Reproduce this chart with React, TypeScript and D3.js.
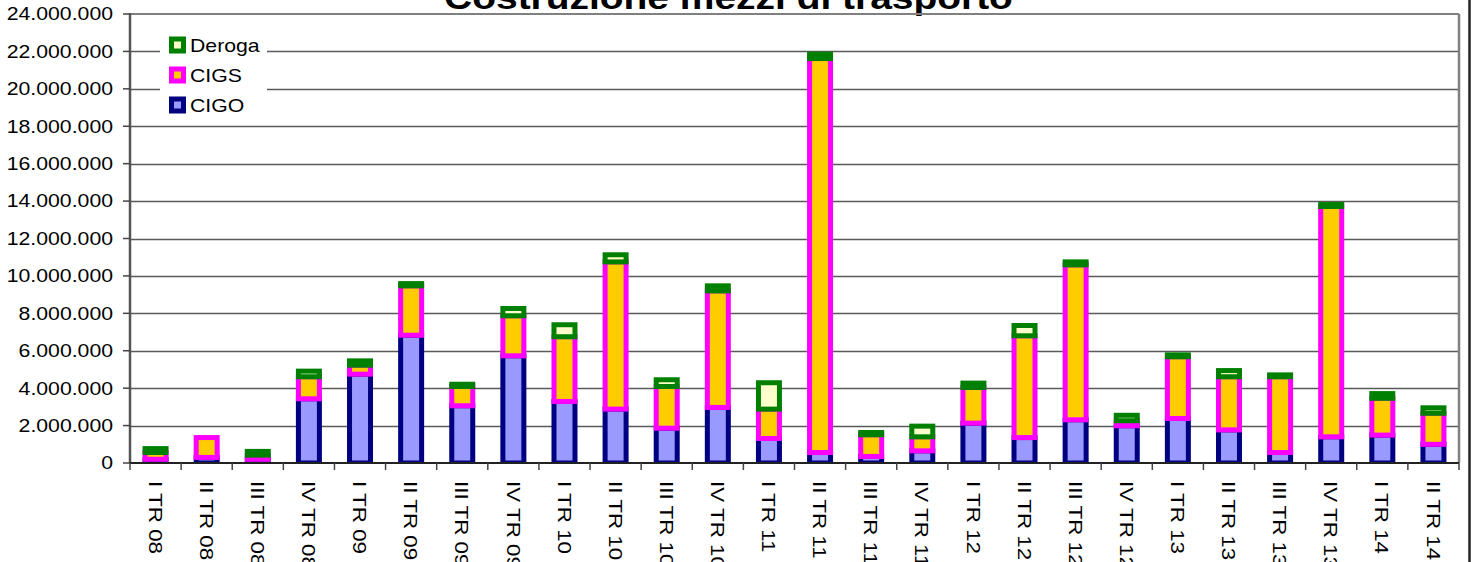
import React from "react";
import * as d3 from "d3";

const categories = ["I TR 08","II TR 08","III TR 08","IV TR 08","I TR 09","II TR 09","III TR 09","IV TR 09","I TR 10","II TR 10","III TR 10","IV TR 10","I TR 11","II TR 11","III TR 11","IV TR 11","I TR 12","II TR 12","III TR 12","IV TR 12","I TR 13","II TR 13","III TR 13","IV TR 13","I TR 14","II TR 14"];
const cigo = [200000,300000,200000,3430000,4750000,6830000,3060000,5730000,3290000,2880000,1860000,2970000,1310000,560000,350000,650000,2130000,1360000,2310000,1990000,2380000,1770000,560000,1400000,1490000,1000000];
const cigs = [360000,1060000,220000,1180000,480000,2640000,1030000,2140000,3460000,7870000,2230000,6230000,1570000,21060000,1160000,750000,1910000,5440000,8280000,270000,3300000,2840000,4050000,12310000,1970000,1660000];
const deroga = [210000,0,200000,300000,230000,120000,120000,390000,640000,380000,360000,270000,1410000,230000,120000,570000,230000,550000,160000,290000,100000,330000,100000,110000,250000,290000];
const yTicks = [0,2000000,4000000,6000000,8000000,10000000,12000000,14000000,16000000,18000000,20000000,22000000,24000000];
const seriesKeys = ["CIGO","CIGS","Deroga"];
const legendOrder = ["Deroga","CIGS","CIGO"];
const title = "Costruzione mezzi di trasporto";

const styles: Record<string, { fill: string; stroke: string }> = {
  CIGO: { fill: "#9999FF", stroke: "#000080" },
  CIGS: { fill: "#FFCC00", stroke: "#FF00FF" },
  Deroga: { fill: "#FFFFCC", stroke: "#008000" },
};

const W = 1474, H = 562;
const L = 130, R = 1459, T = 14, B = 463;
const FONT = "'Liberation Sans', Arial, sans-serif";
const SX = 1.18;

const fmt = d3.formatLocale({ decimal: ",", thousands: ".", grouping: [3], currency: ["€", ""] }).format(",");

export default function App() {
  const table = categories.map((c, i) => ({ cat: c, CIGO: cigo[i], CIGS: cigs[i], Deroga: deroga[i] }));
  const stacked = d3.stack<any>().keys(seriesKeys)(table);
  const x = d3.scaleBand<string>().domain(categories).range([L, R]).padding(0);
  const y = d3.scaleLinear().domain([0, 24000000]).range([B, T]);
  const barW = 21;
  const step = x.step();

  return (
    <svg width={W} height={H} style={{ position: "absolute", left: 0, top: 0, background: "#fff" }} fontFamily={FONT}>
      <defs>
        <clipPath id="plotclip">
          <rect x={L} y={0} width={R - L} height={B} />
        </clipPath>
      </defs>
      <rect x={0} y={0} width={W} height={H} fill="#fff" />
      {/* title */}
      <text x={0} y={0} transform={`translate(${(L + R) / 2 - 66},9) scale(${SX},1)`} textAnchor="middle" fontSize={33} fontWeight="bold" fill="#000">{title}</text>
      {/* gridlines */}
      {yTicks.filter(t => t > 0 && t < 24000000).map(t => (
        <line key={t} x1={L} x2={R} y1={Math.round(y(t)) + 0.5} y2={Math.round(y(t)) + 0.5} stroke="#5a5a5a" strokeWidth={1.5} />
      ))}
      {/* legend background */}
      <rect x={160} y={28} width={107} height={92} fill="#fff" />
      {/* bars */}
      <g clipPath="url(#plotclip)">
        {stacked.map(s => (
          <g key={s.key}>
            {s.map((d, i) => {
              const h = y(d[0]) - y(d[1]);
              if (h <= 0) return null;
              const bx = (x(categories[i]) as number) + (step - barW) / 2;
              return <rect key={i} x={bx} y={y(d[1])} width={barW} height={h} fill={styles[s.key].fill} stroke={styles[s.key].stroke} strokeWidth={5} />;
            })}
          </g>
        ))}
      </g>
      {/* plot borders */}
      <line x1={L} x2={R} y1={T} y2={T} stroke="#808080" strokeWidth={2} />
      <line x1={R} x2={R} y1={T} y2={B} stroke="#808080" strokeWidth={2.5} />
      <line x1={L} x2={L} y1={T - 1} y2={B} stroke="#555" strokeWidth={2.5} />
      <line x1={L - 1} x2={R} y1={B} y2={B} stroke="#222" strokeWidth={2} />
      {/* y ticks & labels */}
      {yTicks.map(t => (
        <g key={t}>
          <line x1={L - 7} x2={L} y1={y(t)} y2={y(t)} stroke="#444" strokeWidth={1.5} />
          <text transform={`translate(113,${y(t)}) scale(${SX},1)`} textAnchor="end" dominantBaseline="central" fontSize={18} fill="#000">{fmt(t)}</text>
        </g>
      ))}
      {/* x ticks */}
      {categories.concat(["__end"]).map((c, i) => {
        const xx = L + i * step;
        return <line key={c} x1={xx} x2={xx} y1={B} y2={B + 7} stroke="#444" strokeWidth={1.5} />;
      })}
      {/* x labels */}
      {categories.map(c => {
        const cx = (x(c) as number) + step / 2;
        return (
          <text key={c} transform={`translate(${cx},481) rotate(90) scale(${SX},1)`} textAnchor="start" dominantBaseline="central" fontSize={19} fill="#000">{c}</text>
        );
      })}
      {/* legend */}
      {legendOrder.map((k, i) => {
        const cy = 45 + i * 30;
        return (
          <g key={k}>
            <rect x={171.5} y={cy - 6} width={12} height={12} fill={styles[k].fill} stroke={styles[k].stroke} strokeWidth={5} />
            <text transform={`translate(190,${cy + 1}) scale(${SX},1)`} dominantBaseline="central" fontSize={18} fill="#000">{k}</text>
          </g>
        );
      })}
      {/* outer right border */}
      <line x1={1469.5} x2={1469.5} y1={0} y2={H} stroke="#222" strokeWidth={2.5} />
    </svg>
  );
}
